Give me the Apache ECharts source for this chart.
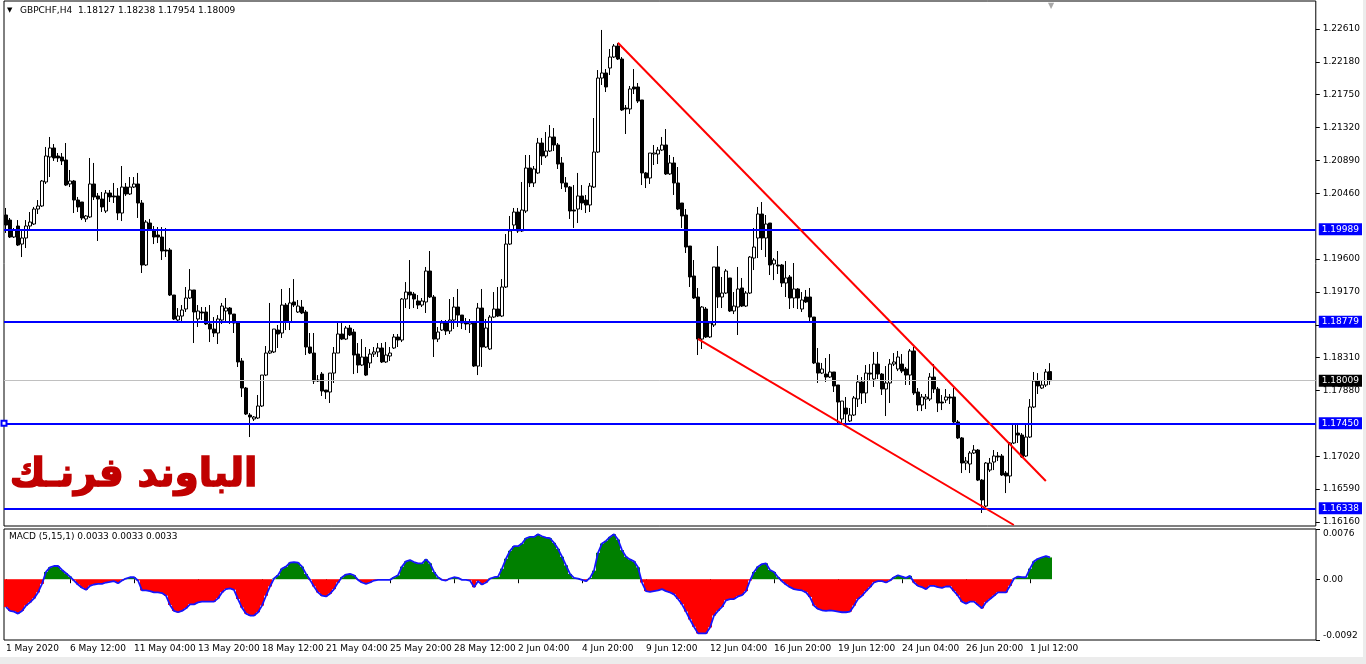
<!DOCTYPE html>
<html><head><meta charset="utf-8">
<script src="https://cdn.jsdelivr.net/npm/echarts@6/dist/echarts.min.js"></script>
<style>html,body{margin:0;padding:0;background:#ececec;overflow:hidden}#c{position:absolute;left:0;top:0;width:1363px;height:657px;background:#fff}</style>
</head><body><div id="c"></div><script>
// ---- data (GBPCHF H4) ----
const open=[1.20176,1.20110,1.19888,1.20032,1.19796,1.19875,1.20032,1.20058,1.20254,1.20294,1.20608,1.20935,1.21053,1.20948,1.20935,1.20896,1.20582,1.20621,1.20372,1.20346,1.20124,1.20150,1.20582,1.20425,1.20385,1.20228,1.20464,1.20425,1.20425,1.20202,1.20542,1.20451,1.20542,1.20582,1.20333,1.19522,1.20071,1.19980,1.19914,1.19888,1.19718,1.19718,1.19129,1.18802,1.18854,1.18946,1.19090,1.19195,1.18815,1.18907,1.18907,1.18750,1.18684,1.18632,1.18802,1.18920,1.18959,1.18880,1.18763,1.18266,1.17912,1.17559,1.17507,1.17520,1.17677,1.18082,1.18370,1.18384,1.18671,1.18632,1.18998,1.18776,1.19038,1.18907,1.18972,1.18907,1.18449,1.18370,1.18017,1.18095,1.17886,1.17860,1.18108,1.18370,1.18619,1.18553,1.18697,1.18645,1.18357,1.18213,1.18318,1.18240,1.18357,1.18384,1.18436,1.18253,1.18331,1.18436,1.18580,1.18540,1.19077,1.19168,1.19142,1.19051,1.18998,1.19038,1.19443,1.19103,1.18553,1.18671,1.18763,1.18658,1.18802,1.18972,1.18867,1.18763,1.18750,1.18776,1.18200,1.18959,1.18449,1.18423,1.18841,1.18946,1.18854,1.19234,1.19796,1.20045,1.20215,1.19967,1.20228,1.20791,1.20595,1.20726,1.21118,1.20948,1.21013,1.21197,1.21092,1.20857,1.20595,1.20542,1.20241,1.20254,1.20425,1.20372,1.20307,1.20542,1.21000,1.21968,1.22034,1.22099,1.22243,1.22387,1.22217,1.21576,1.21563,1.21851,1.21851,1.21681,1.20726,1.20660,1.20974,1.20974,1.21026,1.21092,1.20713,1.20857,1.20595,1.20333,1.20176,1.19770,1.19378,1.19103,1.18553,1.18946,1.18580,1.18737,1.19496,1.19103,1.19155,1.19352,1.18920,1.18972,1.19221,1.18985,1.19155,1.19613,1.19875,1.20189,1.19875,1.20071,1.19535,1.19522,1.19522,1.19286,1.19365,1.19090,1.19208,1.18946,1.19103,1.19103,1.18841,1.18240,1.18108,1.18095,1.18056,1.18122,1.17952,1.17507,1.17650,1.17481,1.17559,1.17769,1.17991,1.17847,1.18108,1.18030,1.18226,1.18095,1.17899,1.17978,1.18226,1.18161,1.18226,1.18161,1.18082,1.18397,1.17860,1.17690,1.17768,1.17768,1.18056,1.17899,1.17729,1.17755,1.17795,1.17795,1.17468,1.17259,1.16931,1.16918,1.17062,1.17101,1.16708,1.16368,1.16839,1.16944,1.17023,1.17023,1.16800,1.16761,1.17193,1.17323,1.17297,1.17023,1.17271,1.17664,1.18004,1.17912,1.17952,1.18127];
const high=[1.20268,1.20137,1.20006,1.20110,1.19980,1.20110,1.20215,1.20281,1.20372,1.20634,1.21066,1.21197,1.21105,1.20987,1.20987,1.21118,1.20765,1.20634,1.20412,1.20346,1.20176,1.20922,1.20857,1.20464,1.20477,1.20503,1.20503,1.20595,1.20529,1.20817,1.20595,1.20673,1.20673,1.20726,1.20372,1.20110,1.20124,1.20032,1.20019,1.20019,1.20006,1.19744,1.19129,1.18959,1.18998,1.19234,1.19469,1.19195,1.18998,1.18972,1.18972,1.18998,1.18841,1.18867,1.19025,1.19090,1.18972,1.18880,1.18763,1.18305,1.17926,1.17585,1.17546,1.17821,1.18082,1.18462,1.19025,1.18684,1.18737,1.19208,1.19025,1.19221,1.19338,1.19064,1.19064,1.18933,1.18632,1.18632,1.18082,1.18122,1.17886,1.18108,1.18449,1.18763,1.18763,1.18724,1.18737,1.18684,1.18501,1.18553,1.18449,1.18423,1.18449,1.18501,1.18501,1.18514,1.18449,1.18619,1.18619,1.19090,1.19299,1.19587,1.19168,1.19129,1.19090,1.19496,1.19705,1.19129,1.18711,1.18802,1.18802,1.19077,1.19103,1.19208,1.18867,1.18828,1.18815,1.18789,1.19025,1.19208,1.18815,1.18867,1.19168,1.19234,1.19338,1.19927,1.20163,1.20268,1.20268,1.20608,1.20961,1.20961,1.20817,1.21184,1.21184,1.21262,1.21353,1.21314,1.21118,1.20935,1.20673,1.20555,1.20568,1.20726,1.20568,1.20438,1.20595,1.21445,1.22073,1.22597,1.22086,1.22348,1.22413,1.22427,1.22243,1.21615,1.21864,1.22086,1.21903,1.21681,1.20739,1.20987,1.21092,1.21066,1.21197,1.21301,1.20961,1.20935,1.20804,1.20333,1.20254,1.19770,1.19587,1.19221,1.18985,1.18972,1.18776,1.19496,1.19770,1.19365,1.19469,1.19352,1.19168,1.19496,1.19352,1.19181,1.19639,1.20006,1.20281,1.20346,1.20176,1.20071,1.19613,1.19705,1.19535,1.19574,1.19391,1.19548,1.19221,1.19168,1.19195,1.19221,1.18841,1.18436,1.18240,1.18305,1.18357,1.18122,1.17952,1.17742,1.17795,1.17650,1.17808,1.18082,1.18056,1.18213,1.18226,1.18384,1.18384,1.18108,1.18200,1.18292,1.18370,1.18397,1.18357,1.18187,1.18423,1.18449,1.17912,1.17834,1.17834,1.18108,1.18226,1.17926,1.17821,1.17899,1.17834,1.17912,1.17494,1.17271,1.17010,1.17088,1.17166,1.17114,1.16721,1.16944,1.16997,1.17101,1.17075,1.17049,1.16826,1.17206,1.17454,1.17428,1.17323,1.17441,1.17768,1.18122,1.18108,1.18017,1.18161,1.18238];
const low=[1.19941,1.19875,1.19875,1.19770,1.19626,1.19744,1.19993,1.20045,1.20189,1.20281,1.20582,1.20673,1.20883,1.20870,1.20830,1.20555,1.20542,1.20202,1.20215,1.20110,1.20084,1.20137,1.20372,1.19836,1.20215,1.20202,1.20346,1.20333,1.20110,1.20097,1.20425,1.20438,1.20529,1.20137,1.19417,1.19509,1.19980,1.19796,1.19809,1.19587,1.19626,1.19116,1.18802,1.18776,1.18763,1.18907,1.19077,1.18501,1.18711,1.18802,1.18737,1.18514,1.18580,1.18488,1.18750,1.18763,1.18750,1.18632,1.18187,1.17795,1.17559,1.17271,1.17481,1.17507,1.17664,1.18069,1.18357,1.18370,1.18436,1.18567,1.18671,1.18671,1.18972,1.18894,1.18880,1.18344,1.18357,1.17965,1.17991,1.17808,1.17768,1.17716,1.17978,1.18370,1.18540,1.18540,1.18593,1.18095,1.18108,1.18200,1.18069,1.18174,1.18318,1.18318,1.18240,1.18240,1.18266,1.18423,1.18449,1.18514,1.18959,1.18946,1.18959,1.18946,1.18972,1.18894,1.19090,1.18318,1.18514,1.18658,1.18606,1.18619,1.18684,1.18711,1.18684,1.18671,1.18632,1.18187,1.18082,1.18187,1.18436,1.18410,1.18828,1.18841,1.18841,1.19221,1.19783,1.19967,1.19941,1.19954,1.20202,1.20542,1.20542,1.20713,1.20830,1.20922,1.21000,1.21013,1.20778,1.20516,1.20477,1.20124,1.20006,1.20071,1.20241,1.20202,1.20215,1.20529,1.20987,1.21877,1.21785,1.22008,1.22230,1.22204,1.21537,1.21236,1.21497,1.21759,1.21641,1.20568,1.20529,1.20582,1.20830,1.20843,1.21013,1.20700,1.20700,1.20438,1.20241,1.20006,1.19679,1.19234,1.19077,1.18344,1.18423,1.18567,1.18567,1.18711,1.18959,1.18959,1.19142,1.18907,1.18880,1.18606,1.18972,1.18972,1.19142,1.19456,1.19613,1.19718,1.19626,1.19391,1.19325,1.19404,1.19234,1.19103,1.18946,1.18959,1.18946,1.18907,1.19025,1.18763,1.18226,1.17978,1.18095,1.17991,1.18043,1.17860,1.17428,1.17428,1.17454,1.17468,1.17546,1.17664,1.17703,1.17716,1.18017,1.17926,1.18030,1.17821,1.17546,1.17716,1.18200,1.18134,1.18108,1.17952,1.17952,1.17821,1.17611,1.17611,1.17637,1.17742,1.17847,1.17598,1.17624,1.17716,1.17703,1.17454,1.17245,1.16800,1.16839,1.16800,1.17049,1.16695,1.16277,1.16355,1.16813,1.16839,1.16957,1.16761,1.16538,1.16669,1.17179,1.17193,1.16997,1.17010,1.17258,1.17650,1.17834,1.17899,1.17926,1.17954];
const close=[1.20045,1.19888,1.19980,1.19783,1.19875,1.20032,1.20084,1.20254,1.20294,1.20621,1.20948,1.21053,1.20922,1.20922,1.20883,1.20568,1.20621,1.20372,1.20281,1.20137,1.20163,1.20582,1.20412,1.20385,1.20281,1.20464,1.20412,1.20412,1.20202,1.20542,1.20451,1.20542,1.20582,1.20333,1.19522,1.20084,1.19993,1.19888,1.19888,1.19705,1.19705,1.19129,1.18815,1.18854,1.18933,1.19090,1.19195,1.18907,1.18920,1.18894,1.18750,1.18684,1.18632,1.18815,1.18985,1.18959,1.18880,1.18763,1.18253,1.17912,1.17572,1.17533,1.17533,1.17677,1.18082,1.18370,1.18397,1.18684,1.18619,1.18998,1.18776,1.19025,1.18998,1.18985,1.18894,1.18449,1.18370,1.18004,1.18004,1.17873,1.17860,1.18108,1.18370,1.18619,1.18553,1.18697,1.18606,1.18344,1.18213,1.18318,1.18082,1.18357,1.18384,1.18436,1.18253,1.18344,1.18370,1.18580,1.18540,1.19077,1.19168,1.19129,1.19077,1.18998,1.19051,1.19443,1.19103,1.18553,1.18645,1.18763,1.18658,1.18802,1.18972,1.18867,1.18763,1.18750,1.18776,1.18200,1.18959,1.18449,1.18697,1.18841,1.18946,1.18854,1.19234,1.19796,1.19967,1.20215,1.19967,1.20241,1.20791,1.20595,1.20778,1.21118,1.20948,1.21013,1.21197,1.21092,1.20843,1.20595,1.20542,1.20228,1.20228,1.20425,1.20333,1.20307,1.20555,1.21000,1.21968,1.22034,1.21851,1.22243,1.22387,1.22217,1.21550,1.21563,1.21825,1.21825,1.21667,1.20726,1.20660,1.20987,1.20987,1.21026,1.21092,1.20713,1.20857,1.20595,1.20254,1.20163,1.19757,1.19365,1.19090,1.18553,1.18972,1.18580,1.18763,1.19496,1.19103,1.19155,1.19443,1.18920,1.18985,1.19208,1.18985,1.19155,1.19626,1.19757,1.20189,1.19875,1.20058,1.19522,1.19587,1.19509,1.19286,1.19352,1.19090,1.19208,1.19090,1.19064,1.19038,1.18841,1.18240,1.18108,1.18161,1.18056,1.18122,1.17939,1.17729,1.17742,1.17572,1.17559,1.17782,1.17991,1.17847,1.18108,1.18095,1.18226,1.18095,1.17899,1.17978,1.18226,1.18253,1.18318,1.18134,1.18082,1.18397,1.17847,1.17690,1.17795,1.17795,1.18056,1.17899,1.17716,1.17716,1.17795,1.17782,1.17468,1.17259,1.16931,1.16957,1.17062,1.17101,1.16708,1.16447,1.16931,1.16931,1.17023,1.17010,1.16774,1.16761,1.17193,1.17441,1.17297,1.17010,1.17271,1.17664,1.18004,1.17939,1.17952,1.18122,1.18009];
const macd=[-0.0042,-0.0048,-0.0049,-0.0052,-0.0048,-0.0040,-0.0035,-0.0029,-0.0020,-0.0007,0.0011,0.0018,0.0020,0.0020,0.0014,0.0009,0.0004,-0.0002,-0.0008,-0.0013,-0.0016,-0.0010,-0.0008,-0.0007,-0.0007,-0.0005,-0.0004,-0.0003,-0.0006,-0.0002,0.0001,0.0003,0.0003,-0.0002,-0.0017,-0.0017,-0.0018,-0.0020,-0.0020,-0.0021,-0.0025,-0.0039,-0.0048,-0.0050,-0.0048,-0.0044,-0.0038,-0.0038,-0.0035,-0.0034,-0.0034,-0.0034,-0.0034,-0.0029,-0.0020,-0.0015,-0.0014,-0.0016,-0.0030,-0.0043,-0.0052,-0.0055,-0.0055,-0.0050,-0.0040,-0.0025,-0.0011,0.0001,0.0006,0.0016,0.0019,0.0025,0.0026,0.0025,0.0019,0.0008,-0.0001,-0.0011,-0.0020,-0.0025,-0.0026,-0.0022,-0.0015,-0.0005,0.0003,0.0007,0.0008,0.0006,-0.0001,-0.0005,-0.0007,-0.0005,-0.0002,-0.0001,-0.0001,-0.0001,-0.0001,0.0003,0.0006,0.0019,0.0027,0.0029,0.0026,0.0024,0.0024,0.0030,0.0024,0.0011,0.0003,-0.0001,-0.0002,0.0001,0.0003,0.0002,-0.0001,-0.0001,-0.0002,-0.0012,-0.0003,-0.0008,-0.0005,0.0001,0.0003,0.0004,0.0016,0.0031,0.0043,0.0050,0.0050,0.0054,0.0062,0.0064,0.0064,0.0068,0.0065,0.0063,0.0062,0.0055,0.0046,0.0034,0.0021,0.0008,0.0002,0.0001,-0.0001,-0.0003,0.0002,0.0013,0.0040,0.0054,0.0058,0.0064,0.0068,0.0060,0.0044,0.0034,0.0030,0.0027,0.0018,-0.0005,-0.0018,-0.0019,-0.0018,-0.0017,-0.0015,-0.0018,-0.0020,-0.0023,-0.0030,-0.0038,-0.0049,-0.0061,-0.0072,-0.0082,-0.0082,-0.0082,-0.0073,-0.0055,-0.0048,-0.0042,-0.0032,-0.0030,-0.0030,-0.0026,-0.0024,-0.0018,-0.0002,0.0011,0.0019,0.0023,0.0024,0.0014,0.0011,0.0003,-0.0003,-0.0008,-0.0012,-0.0015,-0.0016,-0.0017,-0.0020,-0.0027,-0.0040,-0.0045,-0.0047,-0.0048,-0.0047,-0.0048,-0.0049,-0.0050,-0.0050,-0.0049,-0.0040,-0.0030,-0.0025,-0.0018,-0.0012,-0.0005,-0.0003,-0.0003,-0.0005,-0.0002,0.0003,0.0006,0.0004,0.0002,0.0005,-0.0005,-0.0010,-0.0012,-0.0015,-0.0010,-0.0010,-0.0012,-0.0013,-0.0011,-0.0011,-0.0018,-0.0025,-0.0034,-0.0037,-0.0034,-0.0034,-0.0039,-0.0044,-0.0035,-0.0030,-0.0025,-0.0020,-0.0020,-0.0020,-0.0010,0.0001,0.0004,0.0003,0.0003,0.0016,0.0027,0.0031,0.0033,0.0035,0.0033];
const xTickLabels=['1 May 2020','6 May 12:00','11 May 04:00','13 May 20:00','18 May 12:00','21 May 04:00','25 May 20:00','28 May 12:00','2 Jun 04:00','4 Jun 20:00','9 Jun 12:00','12 Jun 04:00','16 Jun 20:00','19 Jun 12:00','24 Jun 04:00','26 Jun 20:00','1 Jul 12:00'];
const priceTicks=[1.16160,1.16590,1.17020,1.17880,1.18310,1.18740,1.19170,1.19600,1.20460,1.20890,1.21320,1.21750,1.22180,1.22610];
const macdTicks=[-0.0092,0,0.0076];
const levels=[1.19989,1.18779,1.17450,1.16338];
const markedLevel=1.17450;
const bid=1.18009;
const trendUpper=[[153,1.22430],[260,1.16696]];
const trendLower=[[173,1.18554],[252,1.16120]];
const slotCount=328;
const labelStep=16;
// ---- chart ----
const F='"DejaVu Sans"';
const slots=Array.from({length:slotCount},(_,i)=>i);
const candleData=open.map((o,i)=>[o,close[i],low[i],high[i]]);
const isLabel=(i)=>i%labelStep===0 && (i/labelStep)<xTickLabels.length;
const boxLabel=(bg,txt)=>({show:true,position:'end',distance:3,formatter:txt,backgroundColor:bg,color:'#fff',fontFamily:F,fontSize:9,padding:[2,3,1,3]});
const chart=echarts.init(document.getElementById('c'),null,{renderer:'canvas'});
chart.setOption({
  animation:false,
  backgroundColor:'#fff',
  grid:[
    {left:4,top:1,width:1312,height:525,show:true,borderColor:'#000',borderWidth:1,backgroundColor:'#fff'},
    {left:4,top:529,width:1312,height:111,show:true,borderColor:'#000',borderWidth:1,backgroundColor:'#fff'}
  ],
  xAxis:[
    {type:'category',gridIndex:0,data:slots,axisLine:{show:false},axisTick:{show:false},axisLabel:{show:false},splitLine:{show:false}},
    {type:'category',gridIndex:1,data:slots,axisLine:{show:false},
     axisTick:{show:true,interval:(i)=>isLabel(i),alignWithLabel:true,length:4,lineStyle:{color:'#000'}},
     axisLabel:{interval:(i)=>isLabel(i),formatter:(v,i)=>isLabel(i)?xTickLabels[i/labelStep]:'',align:'left',margin:4,color:'#000',fontFamily:F,fontSize:9},
     splitLine:{show:false}}
  ],
  yAxis:[
    {type:'value',gridIndex:0,position:'right',min:1.16107,max:1.22976,splitLine:{show:false},axisLine:{show:false},
     axisTick:{show:true,length:4,customValues:priceTicks,lineStyle:{color:'#000'}},
     axisLabel:{customValues:priceTicks,formatter:(v)=>v.toFixed(5),margin:7,color:'#000',fontFamily:F,fontSize:9}},
    {type:'value',gridIndex:1,position:'right',min:-0.0092,max:0.0076,splitLine:{show:false},axisLine:{show:false},
     axisTick:{show:true,length:4,customValues:macdTicks,lineStyle:{color:'#000'}},
     axisLabel:{customValues:macdTicks,formatter:(v)=>v===0?'0.00':v.toFixed(4),margin:7,color:'#000',fontFamily:F,fontSize:9,
       verticalAlignMaxLabel:'top',verticalAlignMinLabel:'bottom'}}
  ],
  series:[
    {type:'candlestick',xAxisIndex:0,yAxisIndex:0,data:candleData,barWidth:3,clip:false,
     itemStyle:{color:'#ffffff',color0:'#000000',borderColor:'#000000',borderColor0:'#000000',borderWidth:1},
     markLine:{silent:true,symbol:'none',animation:false,precision:5,
      data:[
        ...levels.map(v=>v===markedLevel
          ? {yAxis:v,symbol:'emptyRect',symbolSize:5,lineStyle:{color:'#0000ff',width:2,type:'solid'},label:boxLabel('#0000ff',v.toFixed(5))}
          : {yAxis:v,lineStyle:{color:'#0000ff',width:2,type:'solid'},label:boxLabel('#0000ff',v.toFixed(5))}),
        {yAxis:bid,lineStyle:{color:'#c0c0c0',width:1,type:'solid'},label:boxLabel('#000000',bid.toFixed(5))},
        [{coord:trendUpper[0],lineStyle:{color:'#ff0000',width:2,type:'solid'},label:{show:false}},{coord:trendUpper[1]}],
        [{coord:trendLower[0],lineStyle:{color:'#ff0000',width:2,type:'solid'},label:{show:false}},{coord:trendLower[1]}]
      ]}
    },
    {type:'bar',xAxisIndex:1,yAxisIndex:1,data:macd,barCategoryGap:'0%',barGap:'0%',
     itemStyle:{color:(p)=>p.value>=0?'#008000':'#ff0000'}},
    {type:'line',xAxisIndex:1,yAxisIndex:1,data:macd,symbol:'none',lineStyle:{color:'#1414ff',width:1.8}}
  ],
  graphic:[
    {type:'text',left:7,top:7,style:{text:'▼',fill:'#000',font:'7px '+F}},
    {type:'text',left:20,top:6,style:{text:'GBPCHF,H4  1.18127 1.18238 1.17954 1.18009',fill:'#000',font:'9px '+F}},
    {type:'text',left:1048,top:2,style:{text:'▼',fill:'#a8a8a8',font:'8px '+F}},
    {type:'text',left:9,top:532,style:{text:'MACD (5,15,1) 0.0033 0.0033 0.0033',fill:'#000',font:'9px '+F}},
    {type:'text',left:9,top:456,style:{text:'الباوند فرنـك',fill:'#c00000',stroke:'#c00000',lineWidth:1.5,font:'bold 39px '+F}}
  ]
});
</script></body></html>
